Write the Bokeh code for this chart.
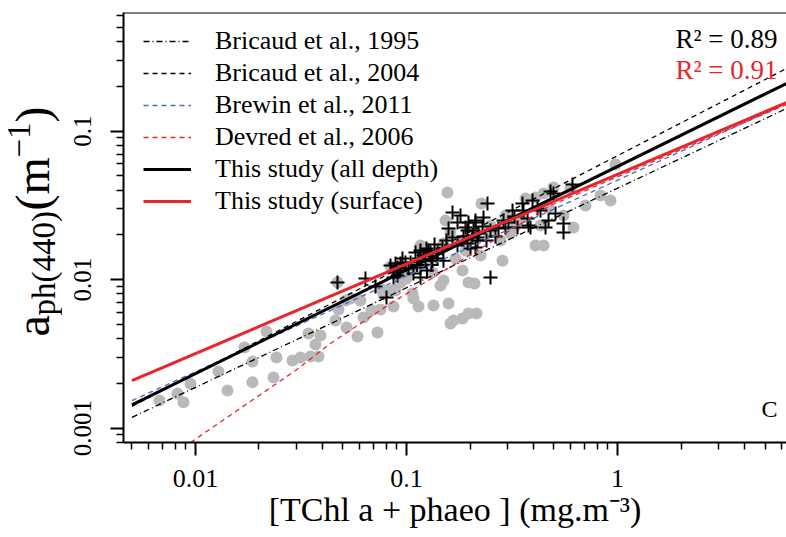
import math
from bokeh.plotting import figure
from bokeh.layouts import row
from bokeh.models import (Range1d, FixedTicker, CustomJSTickFormatter, Label,
                          Legend, LegendItem, Span)
from bokeh.embed import file_html
from bokeh.resources import INLINE

FONT = "Liberation Serif"

# ---------------- data ----------------
# gray circles : all-depth samples  [TChl a + phaeo] (mg m-3) vs aph(440) (m-1)
chl_all = [0.00675, 0.00822, 0.00877, 0.00947, 0.01285, 0.01418, 0.01707, 0.01862, 0.01862,
           0.0217, 0.02343, 0.0242, 0.02882, 0.03146, 0.03432, 0.03704, 0.03508, 0.03827,
           0.03912, 0.04761, 0.05195, 0.05859, 0.06255, 0.07288, 0.06824, 0.07531, 0.0778,
           0.08676, 0.0840, 0.1079, 0.1140, 0.1449, 0.1582, 0.1670, 0.1967, 0.1967, 0.1842,
           0.1328, 0.1564, 0.1531, 0.2267, 0.2851, 0.4087, 0.4461, 0.4087, 0.4461, 0.4974,
           0.3664, 0.6186, 0.5548, 0.5988, 0.8306, 0.9265, 0.978, 0.0471, 0.0840, 0.09165,
           0.1165, 0.1299, 0.1803, 0.2123, 0.2501, 0.2945, 0.3470, 0.2790, 0.3111, 0.1707,
           0.1045, 0.09367, 0.05139, 0.2100, 0.2147, 0.4710, 0.7053, 0.2242, 0.05428,
           0.07531, 0.04607, 0.1000, 0.1497, 0.1497, 0.1343, 0.1068, 0.1616, 0.1842,
           0.1230, 0.1616, 0.1904, 0.2447, 0.3286, 0.4316, 0.0605, 0.0887]
aph_all = [0.00153, 0.00171, 0.00149, 0.00199, 0.00240, 0.00179, 0.00349, 0.00280, 0.00203,
           0.00446, 0.00219, 0.00298, 0.00285, 0.00298, 0.00433, 0.00365, 0.00303, 0.00303,
           0.00420, 0.00628, 0.00475, 0.00413, 0.00555, 0.00440, 0.00618, 0.00628, 0.00793,
           0.00658, 0.00843, 0.00745, 0.00658, 0.00911, 0.00689, 0.00530, 0.00590, 0.00955, 0.0115,
           0.01115, 0.0385, 0.0250, 0.0325, 0.0134, 0.01694, 0.01694, 0.0357, 0.0379, 0.0416,
           0.0351, 0.0224, 0.0270, 0.0410, 0.0368, 0.0340, 0.0595, 0.00955, 0.01223, 0.01064,
           0.01694, 0.01385, 0.0183, 0.0198, 0.0231, 0.0270, 0.02575, 0.0183, 0.0204, 0.01385,
           0.0115, 0.00955, 0.00722, 0.00940, 0.00590, 0.0305, 0.0315, 0.01451, 0.00745,
           0.00870, 0.00530, 0.01016, 0.00985, 0.01747, 0.00668, 0.00805, 0.00505, 0.00546,
           0.0152, 0.0207, 0.01568, 0.0207, 0.0231, 0.0231, 0.00722, 0.00843]

# black crosses : surface samples
chl_surf = [0.0471, 0.0639, 0.0713, 0.0804, 0.0840, 0.0887, 0.0868, 0.0906, 0.1652, 0.1745,
            0.2123, 0.1946, 0.2055, 0.2194, 0.1652, 0.1745, 0.1481, 0.1403, 0.1299, 0.1204,
            0.1103, 0.0989, 0.0906, 0.1045, 0.1165, 0.1328, 0.1403, 0.1079, 0.1165, 0.09367,
            0.0868, 0.2011, 0.1497, 0.2420, 0.2317, 0.3180, 0.3546, 0.3585, 0.3870, 0.3358,
            0.2945, 0.4558, 0.4814, 0.5083, 0.2123, 0.2077, 0.2501, 0.2641, 0.2170, 0.2123,
            0.2501, 0.2882, 0.4178, 0.6118, 0.4974, 0.5548, 0.5548, 0.3787, 0.1165, 0.1271,
            0.1230, 0.1313, 0.1904, 0.1950, 0.2170, 0.1123, 0.1250, 0.0937,
            0.0957, 0.1022, 0.1140, 0.1244, 0.1358, 0.1547, 0.1582, 0.1803, 0.1862, 0.1967,
            0.2292, 0.2394, 0.2729, 0.3043, 0.3250, 0.3746, 0.4316, 0.4710, 0.3956]
aph_surf = [0.00955, 0.01016, 0.00897, 0.00756, 0.01243, 0.01281, 0.01115, 0.01064, 0.0283, 0.0242,
            0.0250, 0.0214, 0.0198, 0.0204, 0.0192, 0.01694, 0.01618, 0.0152, 0.0152, 0.01451,
            0.0152, 0.0130, 0.01205, 0.0130, 0.01205, 0.0134, 0.01385, 0.01098, 0.01032, 0.0115,
            0.01032, 0.01618, 0.0134, 0.0325, 0.02615, 0.0291, 0.0325, 0.0291, 0.0224, 0.0224,
            0.0224, 0.0224, 0.0391, 0.0278, 0.0242, 0.0214, 0.0214, 0.0195, 0.0192, 0.01642,
            0.01032, 0.0250, 0.0301, 0.0436, 0.0379, 0.0238, 0.0207, 0.0231, 0.01568, 0.01568,
            0.0134, 0.0125, 0.0224, 0.01747, 0.0183, 0.0125, 0.0115, 0.0128,
            0.01385, 0.01186, 0.01385, 0.01618, 0.01721, 0.0183, 0.02205, 0.0270, 0.0195, 0.0242,
            0.02275, 0.0183, 0.02205, 0.0242, 0.02656, 0.02575, 0.0291, 0.0250, 0.0340]

# model / fit curves
line_chl = [0.005, 6.32]
bricaud1995 = [0.00118, 0.1417]
bricaud2004 = [0.00140, 0.2636]
brewin2011 = [0.00153, 0.1532]
study_all = [0.001433, 0.2089]
study_surface = [0.002089, 0.1555]
devred_chl = [0.00947, 0.01388, 0.02979, 0.04363, 0.0840, 0.2242, 0.4815, 6.32]
devred2006 = [0.000799, 0.001159, 0.002439, 0.003707, 0.006894, 0.01618, 0.0315, 0.1509]

legend_labels = ["Bricaud et al., 1995", "Bricaud et al., 2004", "Brewin et al., 2011",
                 "Devred et al., 2006", "This study (all depth)", "This study (surface)"]
r2_all = "R² = 0.89"
r2_surface = "R² = 0.91"
x_ticks = [0.01, 0.1, 1]
y_ticks = [0.001, 0.01, 0.1]
x_minor = [0.005, 0.006, 0.007, 0.008, 0.009, 0.02, 0.03, 0.04, 0.05, 0.06, 0.07, 0.08, 0.09,
           0.2, 0.3, 0.4, 0.5, 0.6, 0.7, 0.8, 0.9, 2, 3, 4, 5, 6]
y_minor = [0.0008, 0.0009, 0.002, 0.003, 0.004, 0.005, 0.006, 0.007, 0.008, 0.009,
           0.02, 0.03, 0.04, 0.05, 0.06, 0.07, 0.08, 0.09, 0.2, 0.3, 0.4, 0.5, 0.6]

RED = "#e8252b"
BLUE = "#4a6bc4"
GRAY = "#b9b9b9"

TITLE_W = 62
W, H = 786, 537

# ---------------- y-axis title strip (frame is aligned with the main frame) ----------------
tf = figure(width=TITLE_W, height=H, x_range=Range1d(0, TITLE_W), y_range=Range1d(0, H),
            output_backend="svg", toolbar_location=None, min_border=0,
            min_border_top=12, min_border_bottom=95,
            x_axis_location=None, y_axis_location=None)
tf.grid.visible = False
tf.outline_line_color = None
tf.background_fill_color = "white"
tf.border_fill_color = "white"

ang = math.pi / 2
# (text, anchor x, start y (from frame bottom), font size)
pieces = [("a", 32, 106, "48px"), ("ph(440)", 43, 127, "33px"),
          ("(m", 32, 232, "48px"), ("−1", 18, 285, "33px"), (")", 32, 320, "48px")]
for txt, sx, sy, fs in pieces:
    tf.add_layout(Label(x=sx, y=sy, x_units="screen", y_units="screen", text=txt,
                        angle=ang, text_align="left", text_baseline="alphabetic",
                        text_font=FONT, text_font_size=fs, text_color="black"))

# ---------------- main figure ----------------
p = figure(width=W - TITLE_W, height=H, x_axis_type="log", y_axis_type="log",
           x_range=Range1d(0.00456, 6.32), y_range=Range1d(0.000799, 0.628),
           output_backend="svg", toolbar_location=None,
           min_border_left=123 - TITLE_W, min_border_right=0, min_border_top=12,
           min_border_bottom=95)
p.grid.visible = False
p.outline_line_color = None
p.background_fill_color = "white"
p.border_fill_color = "white"

fmt = CustomJSTickFormatter(code="return tick.toString();")
for ax, ticks, minor in ((p.xaxis[0], x_ticks, x_minor), (p.yaxis[0], y_ticks, y_minor)):
    ax.ticker = FixedTicker(ticks=ticks, minor_ticks=minor)
    ax.formatter = fmt
    ax.axis_line_width = 2
    ax.axis_line_color = "black"
    ax.major_tick_line_width = 2
    ax.minor_tick_line_width = 1.5
    ax.major_tick_in = 0
    ax.major_tick_out = 13
    ax.minor_tick_in = 0
    ax.minor_tick_out = 7
    ax.major_label_text_font = FONT
    ax.major_label_text_color = "black"

p.xaxis.major_label_text_font_size = "26px"
p.xaxis.major_label_standoff = 14
p.yaxis.major_label_text_font_size = "25px"
p.yaxis.major_label_orientation = "vertical"
p.yaxis.major_label_standoff = 19

p.xaxis.axis_label = "[TChl a + phaeo ] (mg.m⁻³)"
p.xaxis.axis_label_text_font = FONT
p.xaxis.axis_label_text_font_size = "34px"
p.xaxis.axis_label_text_font_style = "normal"
p.xaxis.axis_label_text_color = "black"
p.xaxis.axis_label_standoff = 1

# top border of the box
p.add_layout(Span(location=0.628, dimension="width", line_color="black", line_width=2))

# ---------------- marks ----------------
p.scatter(chl_all, aph_all, marker="circle", size=12, fill_color=GRAY, line_color=None)
p.scatter(chl_surf, aph_surf, marker="cross", size=14, line_color="black", line_width=2)

r1 = p.line(line_chl, bricaud1995, line_color="black", line_width=1.3, line_dash="6 3 1 3")
r2 = p.line(line_chl, bricaud2004, line_color="black", line_width=1.3, line_dash="5 4")
r3 = p.line(line_chl, brewin2011, line_color=BLUE, line_width=1.3, line_dash="5 4")
r4 = p.line(devred_chl, devred2006, line_color=RED, line_width=1.3, line_dash="5 4")
r5 = p.line(line_chl, study_all, line_color="black", line_width=3)
r6 = p.line(line_chl, study_surface, line_color=RED, line_width=3)

legend = Legend(items=[LegendItem(label=l, renderers=[r]) for l, r in
                       zip(legend_labels, [r1, r2, r3, r4, r5, r6])],
                location=(20, 226), label_text_font=FONT, label_text_font_size="26px",
                label_text_color="black", glyph_width=48, glyph_height=20,
                label_height=20, label_standoff=24, spacing=2, padding=10,
                background_fill_alpha=0, border_line_color=None)
p.add_layout(legend)

# ---------------- annotations ----------------
p.add_layout(Label(x=654, y=389, x_units="screen", y_units="screen", text=r2_all,
                   text_align="right", text_font=FONT, text_font_size="27px",
                   text_color="black"))
p.add_layout(Label(x=654, y=358, x_units="screen", y_units="screen", text=r2_surface,
                   text_align="right", text_font=FONT, text_font_size="27px",
                   text_color=RED))
p.add_layout(Label(x=654, y=21, x_units="screen", y_units="screen", text="C",
                   text_align="right", text_font=FONT, text_font_size="24px",
                   text_color="black"))

layout = row(tf, p, spacing=0)
open("out.html", "w").write(file_html(layout, INLINE))
